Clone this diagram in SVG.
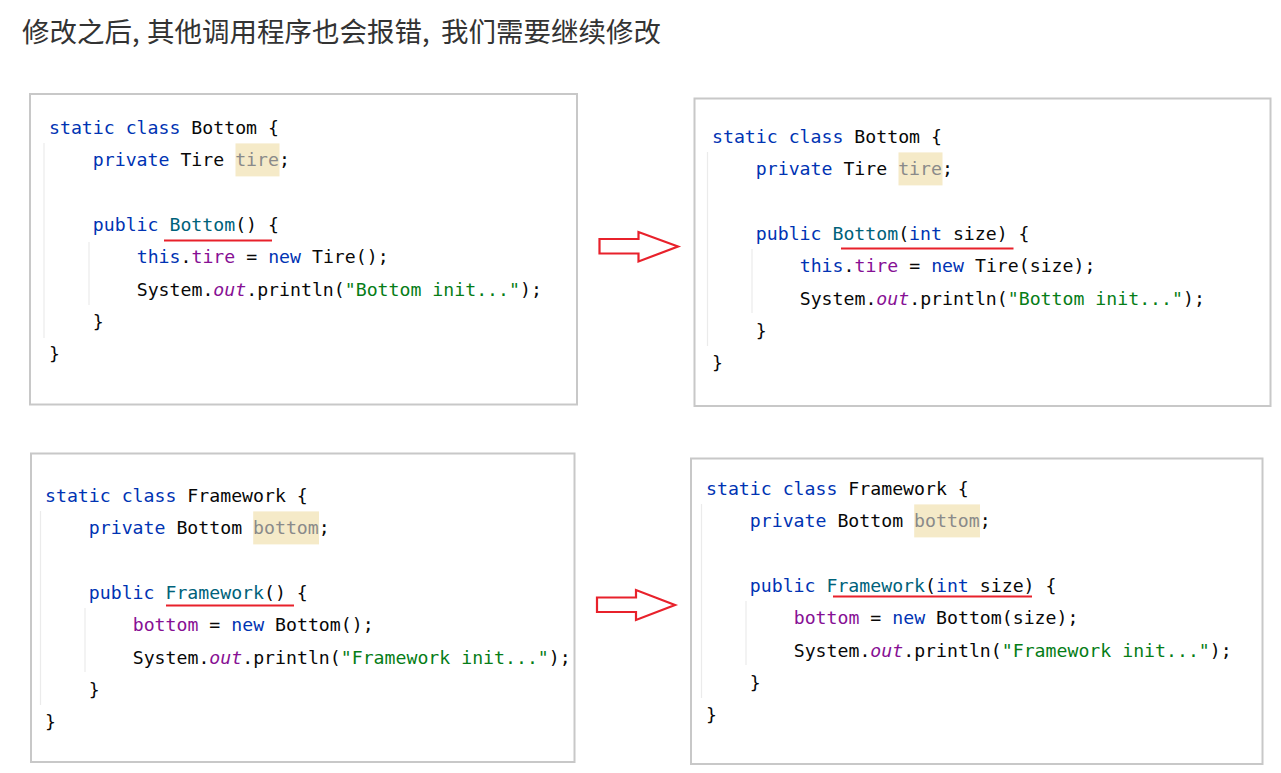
<svg xmlns="http://www.w3.org/2000/svg" width="1281" height="773" viewBox="0 0 1281 773">
<style>
  .bg{fill:#ffffff}
  .panel{fill:#ffffff;stroke:#c8c8c8;stroke-width:2}
  .title{font-family:"Noto Sans CJK SC","Noto Sans",sans-serif;font-size:27.5px;fill:#333333}
  .code{font-family:"DejaVu Sans Mono","Liberation Mono",monospace;font-size:18.2px;fill:#080808}
  .kw{fill:#0033b3}
  .fn{fill:#00627a}
  .fld{fill:#871094}
  .it{fill:#871094;font-style:italic}
  .str{fill:#067d17}
  .unused{fill:#8a8a8a}
  .hl{fill:#f5eac8}
  .guide{stroke:#ebebeb;stroke-width:1.2}
  .err{stroke:#e8212b;stroke-width:2.2;fill:none}
  .arrow{fill:#ffffff;stroke:#e8212b;stroke-width:2.2;stroke-linejoin:miter}
</style>
<rect class="bg" x="0" y="0" width="1281" height="773"/>
<text id="title" class="title" y="42"><tspan x="22">修改之后, </tspan><tspan x="147">其他调用程序也会报错, </tspan><tspan x="441">我们需要继续修改</tspan></text>

<g id="bottom-before">
  <rect class="panel" x="30" y="94" width="547" height="310.5"/>
  <line class="guide" x1="44" y1="143" x2="44" y2="338"/>
  <line class="guide" x1="89" y1="242" x2="89" y2="305"/>
  <rect class="hl" x="235.5" y="143.4" width="44" height="33"/>
  <text class="code" x="49" y="133.5"><tspan class="kw">static class</tspan> Bottom {</text>
  <text class="code" x="92.8" y="165.9"><tspan class="kw">private</tspan> Tire <tspan class="unused">tire</tspan>;</text>
  <text class="code" x="92.8" y="230.7"><tspan class="kw">public</tspan> <tspan class="fn">Bottom</tspan>() {</text>
  <text class="code" x="136.7" y="263.1"><tspan class="kw">this</tspan>.<tspan class="fld">tire</tspan> = <tspan class="kw">new</tspan> Tire();</text>
  <text class="code" x="136.7" y="295.5">System.<tspan class="it">out</tspan>.println(<tspan class="str">"Bottom init..."</tspan>);</text>
  <text class="code" x="92.8" y="327.9">}</text>
  <text class="code" x="49" y="360.3">}</text>
  <line class="err" x1="164" y1="240.5" x2="272" y2="240.5"/>
</g>

<g id="bottom-after">
  <rect class="panel" x="694.5" y="98.5" width="576" height="307.5"/>
  <line class="guide" x1="707.5" y1="152" x2="707.5" y2="346"/>
  <line class="guide" x1="752" y1="249" x2="752" y2="313"/>
  <rect class="hl" x="898.5" y="152.4" width="44" height="33"/>
  <text class="code" x="712" y="142.5"><tspan class="kw">static class</tspan> Bottom {</text>
  <text class="code" x="755.8" y="174.9"><tspan class="kw">private</tspan> Tire <tspan class="unused">tire</tspan>;</text>
  <text class="code" x="755.8" y="239.7"><tspan class="kw">public</tspan> <tspan class="fn">Bottom</tspan>(<tspan class="kw">int</tspan> size) {</text>
  <text class="code" x="799.7" y="272.1"><tspan class="kw">this</tspan>.<tspan class="fld">tire</tspan> = <tspan class="kw">new</tspan> Tire(size);</text>
  <text class="code" x="799.7" y="304.5">System.<tspan class="it">out</tspan>.println(<tspan class="str">"Bottom init..."</tspan>);</text>
  <text class="code" x="755.8" y="336.9">}</text>
  <text class="code" x="712" y="369.3">}</text>
  <line class="err" x1="841" y1="248.5" x2="1013.5" y2="248.5"/>
</g>

<g id="framework-before">
  <rect class="panel" x="31" y="453.5" width="543.5" height="308.5"/>
  <line class="guide" x1="40.5" y1="511" x2="40.5" y2="705"/>
  <line class="guide" x1="85" y1="608" x2="85" y2="672"/>
  <rect class="hl" x="253.2" y="511.4" width="65.8" height="33"/>
  <text class="code" x="45" y="501.5"><tspan class="kw">static class</tspan> Framework {</text>
  <text class="code" x="88.8" y="533.9"><tspan class="kw">private</tspan> Bottom <tspan class="unused">bottom</tspan>;</text>
  <text class="code" x="88.8" y="598.7"><tspan class="kw">public</tspan> <tspan class="fn">Framework</tspan>() {</text>
  <text class="code" x="132.7" y="631.1"><tspan class="fld">bottom</tspan> = <tspan class="kw">new</tspan> Bottom();</text>
  <text class="code" x="132.7" y="663.5">System.<tspan class="it">out</tspan>.println(<tspan class="str">"Framework init..."</tspan>);</text>
  <text class="code" x="88.8" y="695.9">}</text>
  <text class="code" x="45" y="728.3">}</text>
  <line class="err" x1="166" y1="605.5" x2="294" y2="605.5"/>
</g>

<g id="framework-after">
  <rect class="panel" x="691" y="458.5" width="571.5" height="305.5"/>
  <line class="guide" x1="701.5" y1="504" x2="701.5" y2="698"/>
  <line class="guide" x1="746" y1="601" x2="746" y2="665"/>
  <rect class="hl" x="914.2" y="504.4" width="65.8" height="33"/>
  <text class="code" x="706" y="494.5"><tspan class="kw">static class</tspan> Framework {</text>
  <text class="code" x="749.8" y="526.9"><tspan class="kw">private</tspan> Bottom <tspan class="unused">bottom</tspan>;</text>
  <text class="code" x="749.8" y="591.7"><tspan class="kw">public</tspan> <tspan class="fn">Framework</tspan>(<tspan class="kw">int</tspan> size) {</text>
  <text class="code" x="793.7" y="624.1"><tspan class="fld">bottom</tspan> = <tspan class="kw">new</tspan> Bottom(size);</text>
  <text class="code" x="793.7" y="656.5">System.<tspan class="it">out</tspan>.println(<tspan class="str">"Framework init..."</tspan>);</text>
  <text class="code" x="749.8" y="688.9">}</text>
  <text class="code" x="706" y="721.3">}</text>
  <line class="err" x1="833" y1="596.5" x2="1032" y2="596.5"/>
</g>

<g id="connectors">
  <polygon class="arrow" points="599.5,239 638.5,239 638.5,232 678,246.5 638.5,261.5 638.5,253.5 599.5,253.5"/>
  <polygon class="arrow" points="597,597.5 636,597.5 636,590 675,605 636,620 636,612 597,612"/>
</g>
</svg>
